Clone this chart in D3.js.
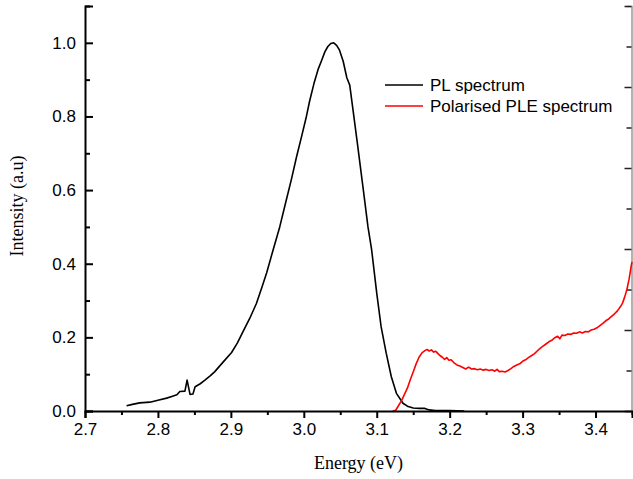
<!DOCTYPE html>
<html>
<head>
<meta charset="utf-8">
<script src="https://cdn.jsdelivr.net/npm/d3@7"></script>
<style>
  body { margin: 0; background: #fff; }
  svg { display: block; }
  .tick text { font-family: "Liberation Sans", Arial, sans-serif; font-size: 17px; fill: #000; }
</style>
</head>
<body>
<div id="chart"></div>
<script>
// PL spectrum (black)
const plEnergy = [2.757, 2.765, 2.775, 2.789, 2.800, 2.812, 2.820, 2.826, 2.830, 2.837, 2.840, 2.844,
    2.848, 2.851, 2.858, 2.864, 2.872, 2.878, 2.889, 2.901, 2.909, 2.917, 2.926, 2.935, 2.942, 2.949,
    2.958, 2.967, 2.975, 2.983, 2.990, 2.997, 3.003, 3.008, 3.014, 3.020, 3.024, 3.029, 3.033, 3.037,
    3.041, 3.045, 3.049, 3.054, 3.059, 3.063, 3.068, 3.074, 3.081, 3.088, 3.093, 3.100, 3.106, 3.113,
    3.120, 3.127, 3.136, 3.143, 3.150, 3.158, 3.166, 3.172, 3.180, 3.200, 3.220];
const plIntensity = [0.014, 0.018, 0.022, 0.024, 0.029, 0.035, 0.040, 0.044, 0.053, 0.054, 0.084, 0.045,
    0.046, 0.066, 0.074, 0.083, 0.096, 0.107, 0.132, 0.159, 0.185, 0.217, 0.252, 0.292, 0.333, 0.375,
    0.438, 0.500, 0.565, 0.629, 0.690, 0.746, 0.795, 0.842, 0.890, 0.930, 0.950, 0.976, 0.990, 0.998,
    1.000, 0.993, 0.980, 0.950, 0.905, 0.885, 0.810, 0.719, 0.610, 0.500, 0.438, 0.320, 0.229, 0.157,
    0.093, 0.048, 0.021, 0.012, 0.008, 0.007, 0.007, 0.003, 0.001, 0.001, 0.000];

// Polarised PLE spectrum (red)
const pleEnergy = [3.122, 3.126, 3.130, 3.134, 3.138, 3.142, 3.146, 3.150, 3.154, 3.158, 3.162, 3.166,
    3.169, 3.172, 3.175, 3.178, 3.181, 3.184, 3.187, 3.190, 3.193, 3.196, 3.199, 3.202, 3.206, 3.210,
    3.214, 3.218, 3.222, 3.226, 3.230, 3.234, 3.238, 3.242, 3.246, 3.250, 3.254, 3.258, 3.262, 3.265,
    3.268, 3.272, 3.276, 3.280, 3.284, 3.288, 3.292, 3.296, 3.300, 3.304, 3.308, 3.312, 3.316, 3.320,
    3.324, 3.328, 3.332, 3.336, 3.340, 3.344, 3.348, 3.351, 3.354, 3.358, 3.362, 3.366, 3.370, 3.374,
    3.378, 3.382, 3.386, 3.390, 3.394, 3.398, 3.402, 3.406, 3.410, 3.414, 3.418, 3.422, 3.426, 3.430,
    3.434, 3.437, 3.440, 3.443, 3.446, 3.449, 3.450];
const pleIntensity = [0.000, 0.002, 0.015, 0.028, 0.045, 0.062, 0.085, 0.106, 0.128, 0.146, 0.158, 0.164,
    0.167, 0.163, 0.166, 0.160, 0.162, 0.156, 0.150, 0.146, 0.140, 0.145, 0.138, 0.139, 0.131, 0.125,
    0.122, 0.118, 0.114, 0.119, 0.114, 0.115, 0.112, 0.114, 0.111, 0.113, 0.110, 0.112, 0.108, 0.113,
    0.107, 0.108, 0.106, 0.110, 0.115, 0.121, 0.125, 0.128, 0.135, 0.139, 0.145, 0.150, 0.155, 0.163,
    0.170, 0.176, 0.182, 0.188, 0.192, 0.199, 0.203, 0.196, 0.206, 0.205, 0.209, 0.208, 0.212, 0.211,
    0.215, 0.212, 0.216, 0.215, 0.220, 0.222, 0.226, 0.232, 0.238, 0.245, 0.250, 0.257, 0.264, 0.272,
    0.283, 0.293, 0.310, 0.330, 0.358, 0.395, 0.405];

const xTicks = [2.7, 2.8, 2.9, 3.0, 3.1, 3.2, 3.3, 3.4];
const xMinorTicks = [2.75, 2.85, 2.95, 3.05, 3.15, 3.25, 3.35, 3.45];
const yTicks = [0.0, 0.2, 0.4, 0.6, 0.8, 1.0];
const yMinorTicks = [0.1, 0.3, 0.5, 0.7, 0.9, 1.1];
const legendLabels = ["PL spectrum", "Polarised PLE spectrum"];
const legendColors = ["#000000", "#ff0000"];

const width = 633;
const height = 479;
const margin = {top: 6, left: 85, right: 1, bottom: 68};

const svg = d3.select("#chart")
    .append("svg")
    .attr("width", width)
    .attr("height", height);

const xScale = d3.scaleLinear()
    .domain([2.7, 3.45])
    .range([margin.left, width - margin.right]);

const yScale = d3.scaleLinear()
    .domain([0, 1.1])
    .range([height - margin.bottom, margin.top]);

const plotBottom = height - margin.bottom;
const plotRight = width - margin.right;

// right frame (grey, unlabelled ticks inward)
const rightScale = d3.scaleLinear().domain([0, 10]).range([plotBottom, margin.top]);
const rightAxis = svg.append("g")
    .attr("transform", `translate(${plotRight - 0.5},0)`)
    .call(d3.axisRight(rightScale).tickValues(d3.range(0, 11)).tickSize(-5).tickFormat(""));
rightAxis.select(".domain").attr("stroke", "#999").attr("stroke-width", 1.5);
rightAxis.selectAll(".tick line").attr("stroke", "#222").attr("stroke-width", 1.5)
    .attr("x2", function(d) { return d % 2 === 0 ? -7 : -5; });

// curves
const line = d3.line()
    .x(function(d) { return xScale(d[0]); })
    .y(function(d) { return yScale(d[1]); });

const plData = plEnergy.map(function(e, i) { return [e, plIntensity[i]]; });
const pleData = pleEnergy.map(function(e, i) { return [e, pleIntensity[i]]; });

svg.append("path")
    .datum(plData)
    .attr("fill", "none")
    .attr("stroke", legendColors[0])
    .attr("stroke-width", 1.6)
    .attr("stroke-linejoin", "round")
    .attr("d", line);

svg.append("path")
    .datum(pleData)
    .attr("fill", "none")
    .attr("stroke", legendColors[1])
    .attr("stroke-width", 1.6)
    .attr("stroke-linejoin", "round")
    .attr("d", line);

// bottom axis, ticks outward
const xAxis = svg.append("g")
    .attr("transform", `translate(0,${plotBottom})`)
    .call(d3.axisBottom(xScale).tickValues(xTicks).tickSize(7).tickPadding(5)
        .tickFormat(d3.format(".1f")));
svg.append("g")
    .attr("transform", `translate(0,${plotBottom})`)
    .call(d3.axisBottom(xScale).tickValues(xMinorTicks).tickSize(4).tickFormat(""))
    .select(".domain").remove();

// left axis, ticks inward
const yAxis = svg.append("g")
    .attr("transform", `translate(${margin.left},0)`)
    .call(d3.axisLeft(yScale).tickValues(yTicks).tickSize(-8).tickPadding(9)
        .tickFormat(d3.format(".1f")));
svg.append("g")
    .attr("transform", `translate(${margin.left},0)`)
    .call(d3.axisLeft(yScale).tickValues(yMinorTicks).tickSize(-5).tickFormat(""))
    .select(".domain").remove();

svg.selectAll(".domain").filter(function() { return this.parentNode !== rightAxis.node(); })
    .attr("stroke-width", 2);
svg.selectAll(".tick line").filter(function() { return this.parentNode.parentNode !== rightAxis.node(); })
    .attr("stroke-width", 2);

// axis titles
svg.append("text")
    .attr("x", (margin.left + plotRight) / 2)
    .attr("y", 469)
    .style("text-anchor", "middle")
    .style("font-family", "'Liberation Serif', 'Times New Roman', serif")
    .style("font-size", "18px")
    .text("Energy (eV)");

svg.append("text")
    .attr("transform", "translate(23,206) rotate(-90)")
    .style("text-anchor", "middle")
    .style("font-family", "'Liberation Serif', 'Times New Roman', serif")
    .style("font-size", "18px")
    .text("Intensity (a.u)");

// legend
const legend = svg.selectAll(".legend")
    .data(legendLabels)
    .enter()
    .append("g")
        .attr("class", "legend")
        .attr("transform", function(d, i) { return `translate(385,${85 + i * 21})`; });

legend.append("line")
    .attr("x1", 0)
    .attr("x2", 38)
    .attr("stroke", function(d, i) { return legendColors[i]; })
    .attr("stroke-width", 1.6);

legend.append("text")
    .attr("x", 45)
    .attr("y", 6)
    .style("font-family", "'Liberation Sans', Arial, sans-serif")
    .style("font-size", "17px")
    .text(function(d) { return d; });
</script>
</body>
</html>
